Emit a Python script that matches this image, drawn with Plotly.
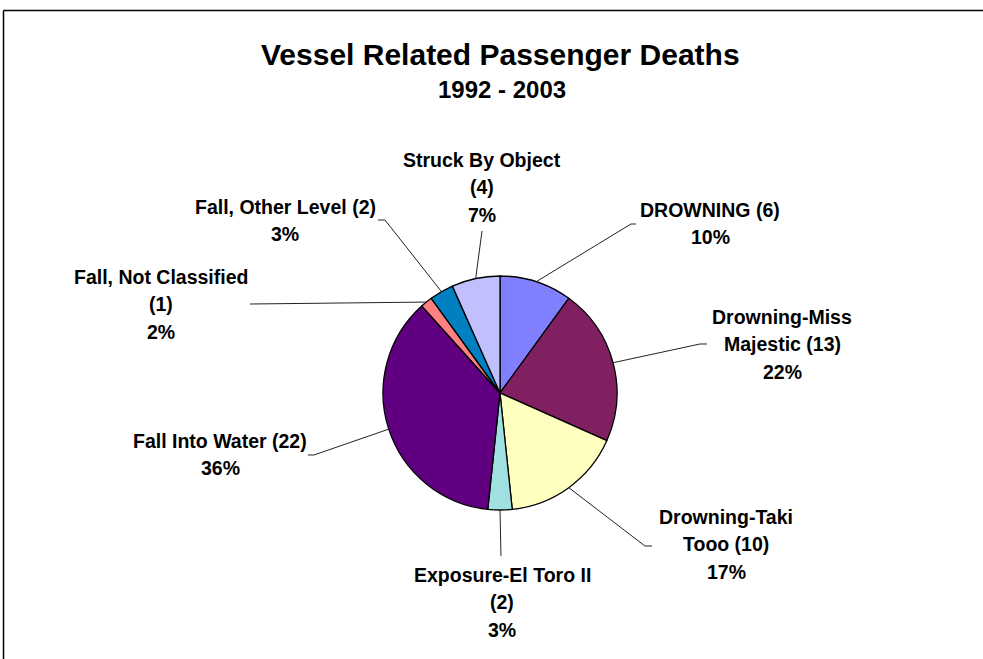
import math
import plotly.graph_objects as go

# ---- data ----
categories = ["DROWNING", "Drowning-Miss Majestic", "Drowning-Taki Tooo",
              "Exposure-El Toro II", "Fall Into Water", "Fall, Not Classified",
              "Fall, Other Level", "Struck By Object"]
deaths = [6, 13, 10, 2, 22, 1, 2, 4]
pct_labels = [10, 22, 17, 3, 36, 2, 3, 7]
colors = ["#8080FF", "#802060", "#FFFFC0", "#A0E0E0", "#600080", "#FF8080", "#0080C0", "#C0C0FF"]

title = "Vessel Related Passenger Deaths"
subtitle = "1992 - 2003"

# ---- layout constants (pixels) ----
W, H = 983, 659
CX, CY, R = 500, 393, 117
FONT = "Liberation Sans, Arial, sans-serif"
LBL_SIZE = 19.5
LINE_H = 27.3

# words per line for each label (name + count), last line is the percentage
wrap = [[2], [1, 2], [1, 2], [3, 1], [4], [3, 1], [4], [3, 1]]
# (x center, y of first line) for each label
label_pos = [(710, 210), (782, 317), (726, 517), (502, 575),
             (220, 441), (161, 277), (285, 207), (482, 160)]
# leader line: list of points after the slice anchor
leader_pts = [[(631, 224), (636, 224)], [(700, 344), (707, 344)],
              [(645, 546), (652, 546)], [(501, 556)],
              [(314, 455), (308, 455)], [(250, 304)],
              [(385, 220), (378, 220)], [(482, 231)]]


def px(x):
    return x / W


def py(y):
    return 1 - y / H


fig = go.Figure()
fig.add_trace(go.Pie(
    labels=categories, values=deaths, sort=False, direction="clockwise",
    rotation=0, textinfo="none", hoverinfo="label+value+percent",
    marker=dict(colors=colors, line=dict(color="#000000", width=1.3)),
    domain=dict(x=[px(CX - R), px(CX + R)], y=[py(CY + R), py(CY - R)]),
    showlegend=False,
))

annotations = []
shapes = []
total = sum(deaths)
cum = 0
for i, (name, v) in enumerate(zip(categories, deaths)):
    mid = (cum + v / 2) / total * 2 * math.pi
    cum += v
    ax = CX + R * math.sin(mid)
    ay = CY - R * math.cos(mid)
    pts = [(ax, ay)] + leader_pts[i]
    path = "M " + " L ".join(f"{px(x):.5f},{py(y):.5f}" for x, y in pts)
    shapes.append(dict(type="path", xref="paper", yref="paper", path=path,
                       line=dict(color="#222222", width=1)))
    words = f"{name} ({v})".split(" ")
    lines = []
    k = 0
    for n in wrap[i]:
        lines.append(" ".join(words[k:k + n]))
        k += n
    lines.append(f"{pct_labels[i]}%")
    lx, ly = label_pos[i]
    for j, t in enumerate(lines):
        annotations.append(dict(
            x=px(lx), y=py(ly + j * LINE_H), xref="paper", yref="paper",
            text=f"<b>{t}</b>", showarrow=False, xanchor="center", yanchor="middle",
            font=dict(family=FONT, size=LBL_SIZE, color="#000000")))

annotations.append(dict(x=px(500), y=py(54), xref="paper", yref="paper",
                        text=f"<b>{title}</b>", showarrow=False, xanchor="center",
                        yanchor="middle", font=dict(family=FONT, size=30, color="#000000")))
annotations.append(dict(x=px(502), y=py(90), xref="paper", yref="paper",
                        text=f"<b>{subtitle}</b>", showarrow=False, xanchor="center",
                        yanchor="middle", font=dict(family=FONT, size=24, color="#000000")))

# chart-area border: only the top and left edges are inside the picture
shapes.append(dict(type="line", xref="paper", yref="paper",
                   x0=px(3.5), y0=py(10.5), x1=1, y1=py(10.5),
                   line=dict(color="#000000", width=1.5)))
shapes.append(dict(type="line", xref="paper", yref="paper",
                   x0=px(3.5), y0=py(10.5), x1=px(3.5), y1=0,
                   line=dict(color="#000000", width=1.5)))

fig.update_layout(
    width=W, height=H, margin=dict(l=0, r=0, t=0, b=0),
    paper_bgcolor="#FFFFFF", plot_bgcolor="#FFFFFF",
    annotations=annotations, shapes=shapes,
)
fig.write_html("out.html", config={"displayModeBar": False},
               post_script="document.body.style.margin='0';document.body.style.overflow='hidden';")
